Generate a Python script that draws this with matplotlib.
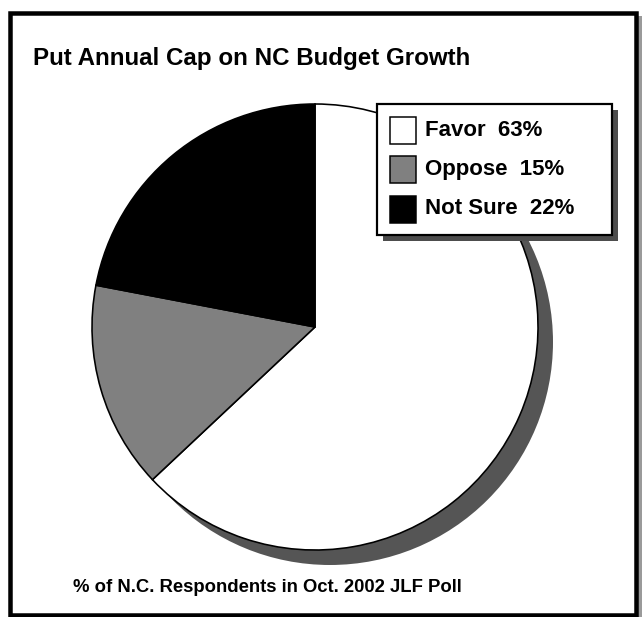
import matplotlib.pyplot as plt
from matplotlib.patches import Rectangle, Circle

plt.rcParams['font.family'] = ['Liberation Sans', 'DejaVu Sans']

labels = ['Favor', 'Oppose', 'Not Sure']
values = [63, 15, 22]
colors = ['white', '#808080', 'black']

title = 'Put Annual Cap on NC Budget Growth'
caption = '% of N.C. Respondents in Oct. 2002 JLF Poll'

W, H = 642, 617
fig = plt.figure(figsize=(W / 100, H / 100), dpi=100)
ax = fig.add_axes([0, 0, 1, 1])

def py(y):
    # pixel rows counted from the top
    return H - y

px = 0.72  # one pixel in points

# outer frame with a gray strip on the right
ax.add_patch(Rectangle((638, py(617)), 4, 601, facecolor='#9a9a9a', edgecolor='none', zorder=1))
ax.add_patch(Rectangle((10.3, py(615)), 625.7, 602.5, facecolor='white',
                       edgecolor='black', linewidth=4.5 * px, zorder=2))

# pie with drop shadow
cx, cy, r = 315, py(327), 223
ax.add_patch(Circle((cx + 15, cy - 15), r, facecolor='#555555', edgecolor='none', zorder=3))
wedges, _ = ax.pie(values, colors=colors, startangle=90, counterclock=False,
                   center=(cx, cy), radius=r,
                   wedgeprops=dict(edgecolor='black', linewidth=1.6 * px, zorder=4))
for w in wedges:
    w.set_zorder(4)

# legend box with shadow
lx0, ly0, lx1, ly1 = 377, 104, 612, 235
ax.add_patch(Rectangle((lx0 + 6, py(ly1 + 6)), lx1 - lx0, ly1 - ly0,
                       facecolor='#4d4d4d', edgecolor='none', zorder=5))
ax.add_patch(Rectangle((lx0, py(ly1)), lx1 - lx0, ly1 - ly0,
                       facecolor='white', edgecolor='black', linewidth=2.2 * px, zorder=6))
row_y = [130.5, 169, 209]
for lab, val, col, yy in zip(labels, values, colors, row_y):
    ax.add_patch(Rectangle((390, py(yy + 13.5)), 26, 27, facecolor=col,
                           edgecolor='black', linewidth=1.5 * px, zorder=7))
    ax.text(425, py(yy), f'{lab}  {val}%', fontsize=16, fontweight='bold',
            ha='left', va='center', zorder=7)

ax.text(33, py(59), title, fontsize=17.4, fontweight='bold', ha='left', va='center', zorder=7)
ax.text(267, py(587), caption, fontsize=13.3, fontweight='bold', ha='center', va='center', zorder=7)

ax.set_xlim(0, W)
ax.set_ylim(0, H)
ax.set_aspect('equal')
ax.axis('off')

fig.savefig('out.png', dpi=100)
